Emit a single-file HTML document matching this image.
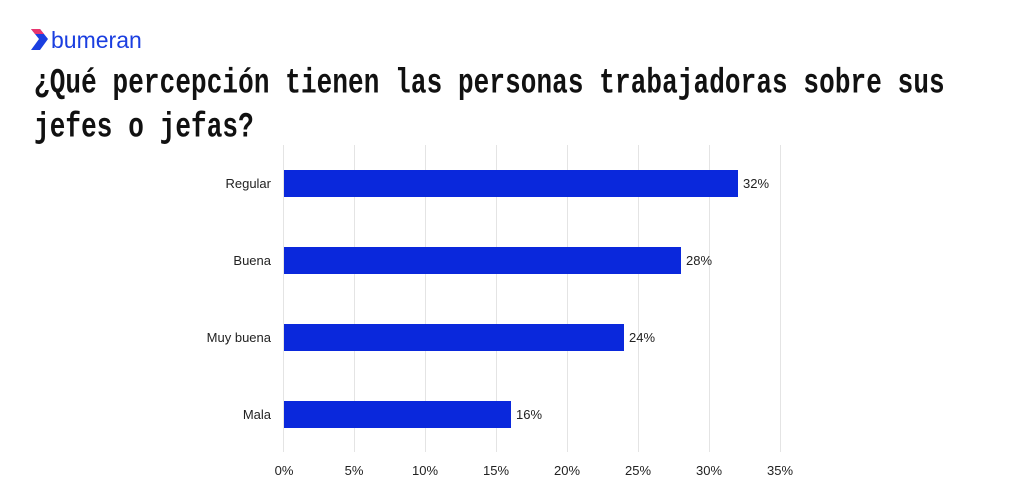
<!DOCTYPE html>
<html><head><meta charset="utf-8"><style>
body{margin:0;width:1024px;height:500px;background:#fff;overflow:hidden;position:relative;font-family:"Liberation Sans",sans-serif}
.t{position:absolute;left:34px;font-family:"Liberation Mono",monospace;font-weight:bold;font-size:26px;color:#111;transform:scaleY(1.35);transform-origin:left top;white-space:nowrap;letter-spacing:0.1px}
</style></head><body>
<svg width="1024" height="500" style="position:absolute;left:0;top:0">
<path d="M31 29 L40 29 L48 39 L40 50 L31 50 L39 39 Z" fill="#1a3ee0"/>
<path d="M31 29 L40 29 L44 34 L35 34 Z" fill="#e8356e"/>
<text x="51" y="48" font-family="Liberation Sans" font-size="23" fill="#1a3ee0">bumeran</text>
<g stroke="#e4e4e4" stroke-width="1">
<line x1="354.5" y1="145" x2="354.5" y2="452"/><line x1="425.5" y1="145" x2="425.5" y2="452"/>
<line x1="496.5" y1="145" x2="496.5" y2="452"/><line x1="567.5" y1="145" x2="567.5" y2="452"/>
<line x1="638.5" y1="145" x2="638.5" y2="452"/><line x1="709.5" y1="145" x2="709.5" y2="452"/>
<line x1="780.5" y1="145" x2="780.5" y2="452"/><line x1="283.5" y1="145" x2="283.5" y2="452"/>
</g>
<g fill="#0a28dc">
<rect x="284" y="170" width="454" height="27"/>
<rect x="284" y="247" width="397" height="27"/>
<rect x="284" y="324" width="340" height="27"/>
<rect x="284" y="401" width="227" height="27"/>
</g>
<g font-size="13" fill="#222" text-anchor="end">
<text x="271" y="188">Regular</text><text x="271" y="265">Buena</text>
<text x="271" y="342">Muy buena</text><text x="271" y="419">Mala</text>
</g>
<g font-size="13" fill="#222">
<text x="743" y="188">32%</text><text x="686" y="265">28%</text>
<text x="629" y="342">24%</text><text x="516" y="419">16%</text>
</g>
<g font-size="13" fill="#222" text-anchor="middle">
<text x="284" y="475">0%</text><text x="354" y="475">5%</text><text x="425" y="475">10%</text>
<text x="496" y="475">15%</text><text x="567" y="475">20%</text><text x="638" y="475">25%</text>
<text x="709" y="475">30%</text><text x="780" y="475">35%</text>
</g>
</svg>
<div class="t" style="top:63px">¿Qué percepción tienen las personas trabajadoras sobre sus</div>
<div class="t" style="top:107px">jefes o jefas?</div>
</body></html>
